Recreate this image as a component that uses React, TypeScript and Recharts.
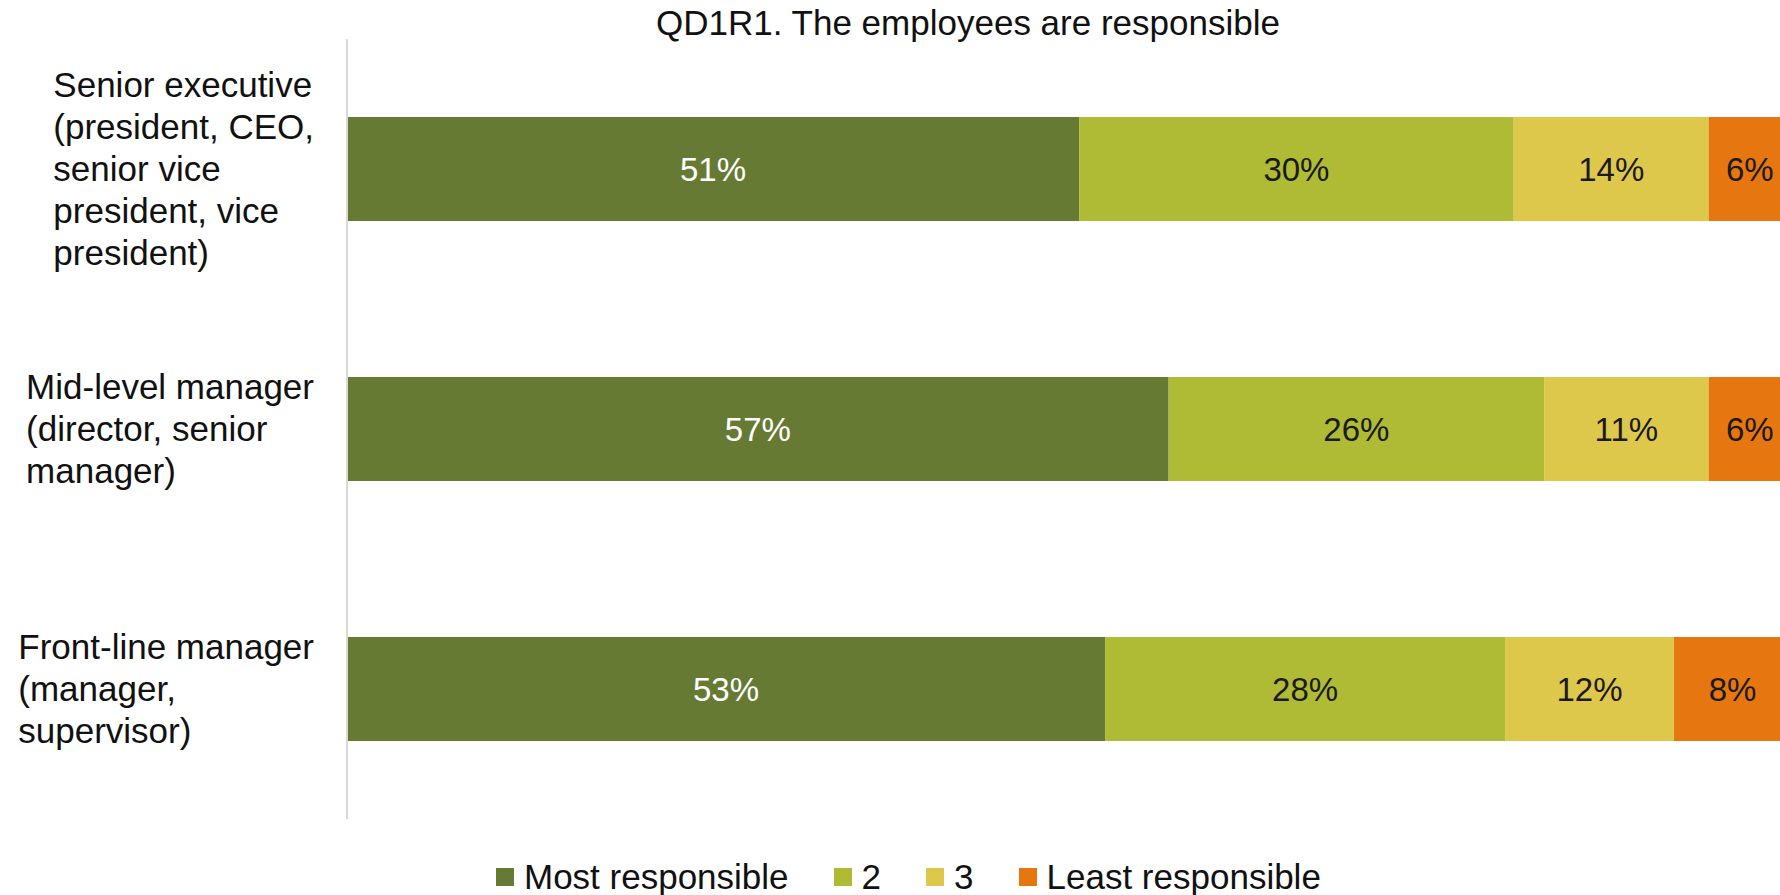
import React from "react";
import { BarChart, Bar, XAxis, YAxis, Legend, LabelList } from "recharts";

const categories = [
    "Senior executive\n(president, CEO,\nsenior vice\npresident, vice\npresident)",
    "Mid-level manager\n(director, senior\nmanager)",
    "Front-line manager\n(manager,\nsupervisor)",
];
const mostResponsible = [50.7, 56.9, 52.5];
const second = [30.1, 26.0, 27.7];
const third = [13.5, 11.4, 11.7];
const leastResponsible = [5.7, 5.7, 8.1];

const seriesKeys = ["most", "second", "third", "least"];
const seriesNames = ["Most responsible", "2", "3", "Least responsible"];
const seriesColors = ["#677a33", "#afbb34", "#dec84c", "#e6760f"];
const labelColors = ["#ffffff", "#1a1a1a", "#1a1a1a", "#1a1a1a"];

const FONT = "'Liberation Sans', Arial, sans-serif";

const data = categories.map((name, i) => ({
    name,
    most: mostResponsible[i],
    second: second[i],
    third: third[i],
    least: leastResponsible[i],
}));

const CategoryTick = ({ x, y, payload }: any) => {
    const w = 330;
    return (
        <foreignObject x={x - w - 25} y={y - 130} width={w} height={260}>
            <div style={{ height: 260, display: "flex", alignItems: "center", justifyContent: "flex-end" }}>
                <div style={{
                    whiteSpace: "pre",
                    textAlign: "left",
                    fontFamily: FONT,
                    fontSize: 35,
                    lineHeight: "42px",
                    color: "#111",
                }}>
                    {payload.value}
                </div>
            </div>
        </foreignObject>
    );
};

const makeLabel = (color: string) => (props: any) => {
    const { x, y, width, height, value } = props;
    return (
        <text
            x={x + width / 2}
            y={y + height / 2}
            textAnchor="middle"
            dominantBaseline="central"
            fill={color}
            style={{ fontFamily: FONT, fontSize: 33 }}
        >
            {Math.round(value)}%
        </text>
    );
};

const LegendContent = () => (
    <div style={{ display: "flex", alignItems: "center", fontFamily: FONT, fontSize: 35, lineHeight: "40px", color: "#111", whiteSpace: "nowrap" }}>
        {seriesNames.map((n, i) => (
            <div key={n} style={{ display: "flex", alignItems: "center", marginRight: 45 }}>
                <span style={{ width: 18, height: 18, background: seriesColors[i], display: "inline-block", marginRight: 10 }} />
                <span>{n}</span>
            </div>
        ))}
    </div>
);

export default function App() {
    return (
        <div style={{ position: "fixed", left: 0, top: 0, width: 1780, height: 895, overflow: "hidden", background: "#fff" }}>
            <div style={{
                position: "absolute",
                left: 0,
                top: 3,
                width: 1936,
                textAlign: "center",
                fontFamily: FONT,
                fontSize: 35,
                lineHeight: "40px",
                color: "#111",
            }}>
                QD1R1. The employees are responsible
            </div>
            <BarChart
                width={1800}
                height={895}
                data={data}
                layout="vertical"
                margin={{ top: 39, right: 9, bottom: 76, left: 0 }}
                barCategoryGap="30%"
            >
                <XAxis type="number" domain={[0, 100]} hide />
                <YAxis
                    type="category"
                    dataKey="name"
                    width={347}
                    axisLine={{ stroke: "#d9d9d9", strokeWidth: 2 }}
                    tickLine={false}
                    tick={<CategoryTick />}
                />
                <Legend
                    layout="horizontal"
                    verticalAlign="middle"
                    align="center"
                    content={<LegendContent />}
                    wrapperStyle={{ left: 496, top: 857, width: "auto", bottom: "auto", right: "auto" }}
                />
                {seriesKeys.map((k, i) => (
                    <Bar
                        key={k}
                        dataKey={k}
                        name={seriesNames[i]}
                        stackId="a"
                        fill={seriesColors[i]}
                        isAnimationActive={false}
                    >
                        <LabelList dataKey={k} content={makeLabel(labelColors[i])} />
                    </Bar>
                ))}
            </BarChart>
        </div>
    );
}
